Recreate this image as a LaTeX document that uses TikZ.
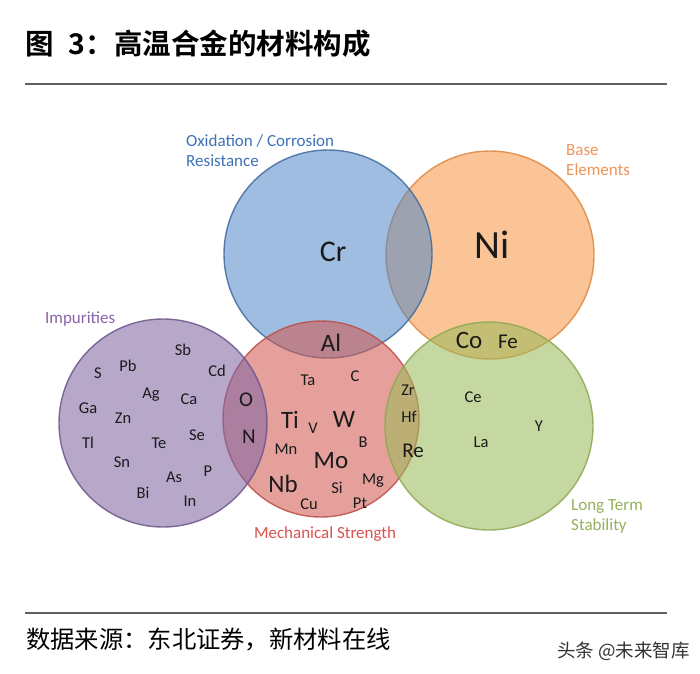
\documentclass[tikz,border=0pt]{standalone}
\usepackage{fontspec}
\setmainfont{Carlito}
\newfontfamily\cjk{Noto Sans CJK SC}
\newfontfamily\cjkb{Noto Sans CJK SC Bold}
\definecolor{cblue}{HTML}{4F86C6}
\definecolor{corange}{HTML}{F79646}
\definecolor{cred}{HTML}{D2574F}
\definecolor{cpurple}{HTML}{8064A2}
\definecolor{cgreen}{HTML}{9BBB59}
\definecolor{tblue}{HTML}{3E72B8}
\definecolor{torange}{HTML}{F0955A}
\definecolor{tpurple}{HTML}{8A63A8}
\definecolor{tred}{HTML}{D9534F}
\definecolor{tgreen}{HTML}{93B25A}
\definecolor{elem}{HTML}{1A1A1A}
\definecolor{rulegray}{HTML}{606060}
\tikzset{
  venn/.style={circle, inner sep=0pt, outer sep=0pt, minimum size=208pt, line width=1.4pt, fill opacity=0.56, draw opacity=0.85},
  sm/.style={text=elem, inner sep=0pt, font=\fontsize{16.5}{19}\selectfont},
  md/.style={text=elem, inner sep=0pt, font=\fontsize{21}{24}\selectfont},
  lg/.style={text=elem, inner sep=0pt, font=\fontsize{25}{28}\selectfont},
  cat/.style={inner sep=0pt, align=left, font=\fontsize{17}{20}\selectfont},
  rule/.style={draw=rulegray, line width=1.2pt}
}
\begin{document}
\begin{tikzpicture}[x=1pt,y=-1pt]
\useasboundingbox[fill=white] (0,0) rectangle (700,673);
% title and rules
\node[anchor=west, inner sep=0pt, font=\cjkb\fontsize{28.5}{30}\selectfont] (title) at (25,44) {图\hspace{15pt}3：高温合金的材料构成};
\coordinate (tl) at (25,84); \coordinate (tr) at (667,84);
\draw[rule] (tl) -- (tr);
\coordinate (bl) at (25,613); \coordinate (br) at (667,613);
\draw[rule] (bl) -- (br);
\node[anchor=west, inner sep=0pt, font=\cjk\fontsize{24.3}{26}\selectfont] (source) at (26,640) {数据来源：东北证券，新材料在线};
\node[anchor=east, inner sep=0pt, text=black!80, font=\cjk\fontsize{18.5}{21}\selectfont] (wm) at (690,651) {头条 @未来智库};
% circles
\node[venn, fill=corange, draw=corange!90!black] (base) at (490,255) {};
\node[venn, fill=cblue, fill opacity=0.54, draw=cblue!80!black] (oxid) at (328,254) {};
\node[venn, minimum size=196pt, fill=cred, draw=cred!90!black] (mech) at (321,419) {};
\node[venn, fill=cpurple, draw=cpurple!85!black] (imp) at (163,423) {};
\node[venn, fill=cgreen, draw=cgreen!90!black] (stab) at (489,426) {};
% category labels
\node[cat, anchor=north west, text=tblue] (lox) at (186,134) {Oxidation / Corrosion\\Resistance};
\node[cat, anchor=north west, text=torange] (lbase) at (566,144) {Base\\Elements};
\node[cat, anchor=north west, text=tpurple] (limp) at (45,312) {Impurities};
\node[cat, anchor=center, text=tred] (lmech) at (325,534) {Mechanical Strength};
\node[cat, anchor=north west, text=tgreen] (lstab) at (571,499) {Long Term\\Stability};
% big elements
\node[text=elem, inner sep=0pt, font=\fontsize{30}{32}\selectfont] (Cr) at (333,252) {Cr};
\node[text=elem, inner sep=0pt, font=\fontsize{40}{42}\selectfont] (Ni) at (492,245) {Ni};
\node[lg] (Al) at (331,343) {Al};
\node[lg] (Ti) at (290,420) {Ti};
\node[lg] (W) at (344,419) {W};
\node[lg] (Mo) at (331,461) {Mo};
\node[lg] (Nb) at (283,484) {Nb};
\node[md] (Re) at (413,451) {Re};
\node[lg] (Co) at (469,340) {Co};
\node[md] (Fe) at (508,342) {Fe};
\node[md] (O) at (246,400) {O};
\node[md] (N) at (249,437) {N};
% impurities
\node[sm] (Sb) at (183,350) {Sb};
\node[sm] (Pb) at (128,366) {Pb};
\node[sm] (S) at (98,373) {S};
\node[sm] (Cd) at (217,371) {Cd};
\node[sm] (Ag) at (151,395) {Ag};
\node[sm] (Ca) at (189,399) {Ca};
\node[sm] (Ga) at (88,408) {Ga};
\node[sm] (Zn) at (123,418) {Zn};
\node[sm] (Tl) at (88,443) {Tl};
\node[sm] (Te) at (159,443) {Te};
\node[sm] (Se) at (197,435) {Se};
\node[sm] (Sn) at (122,462) {Sn};
\node[sm] (P) at (208,471) {P};
\node[sm] (As) at (174,477) {As};
\node[sm] (Bi) at (143,493) {Bi};
\node[sm] (In) at (190,501) {In};
% mechanical
\node[sm] (Ta) at (308,380) {Ta};
\node[sm] (C) at (355,376) {C};
\node[sm] (V) at (313,428) {V};
\node[sm] (B) at (363,442) {B};
\node[sm] (Mn) at (286,449) {Mn};
\node[sm] (Si) at (337,488) {Si};
\node[sm] (Mg) at (373,481) {Mg};
\node[sm] (Cu) at (309,504) {Cu};
\node[sm] (Pt) at (360,503) {Pt};
% mech/stability
\node[sm] (Zr) at (408,390) {Zr};
\node[sm] (Hf) at (409,417) {Hf};
% stability
\node[sm] (Ce) at (473,397) {Ce};
\node[sm] (La) at (481,442) {La};
\node[sm] (Y) at (539,426) {Y};
\end{tikzpicture}
\end{document}
